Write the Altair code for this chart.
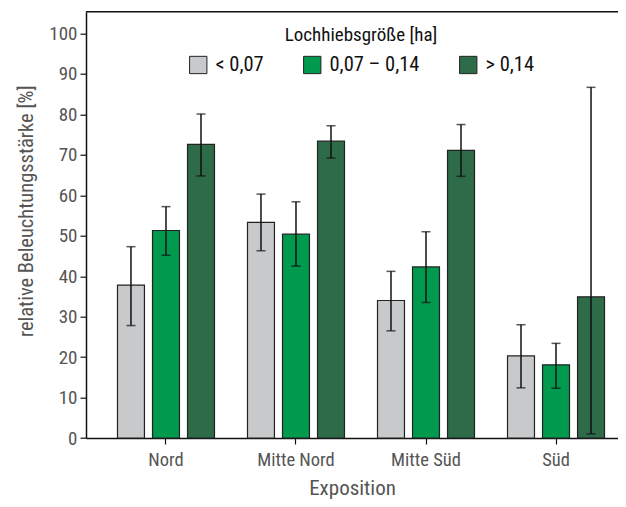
import altair as alt
import pandas as pd

expositions = ["Nord", "Mitte Nord", "Mitte Süd", "Süd"]
groups = ["< 0,07", "0,07 – 0,14", "> 0,14"]
colors = ["#c8c9cb", "#009a4e", "#2e6b48"]

means = [
    [37.8, 51.3, 72.6],
    [53.3, 50.4, 73.4],
    [34.0, 42.3, 71.1],
    [20.3, 18.1, 34.9],
]
lower = [
    [27.8, 45.2, 64.8],
    [46.3, 42.5, 69.2],
    [26.5, 33.5, 64.7],
    [12.4, 12.3, 1.0],
]
upper = [
    [47.3, 57.2, 80.1],
    [60.3, 58.4, 77.2],
    [41.2, 51.0, 77.5],
    [28.0, 23.4, 86.7],
]
y_ticks = [0, 10, 20, 30, 40, 50, 60, 70, 80, 90, 100]

rows = []
for i, e in enumerate(expositions):
    for j, g in enumerate(groups):
        rows.append({"Exposition": e, "Gruppe": g, "mean": means[i][j],
                     "lo": lower[i][j], "hi": upper[i][j]})
df = pd.DataFrame(rows)

FONT = "Liberation Sans Narrow, Roboto Condensed, DejaVu Sans Condensed, sans-serif"
YMAX = 105.4

x = alt.X("Exposition:N", sort=expositions,
          scale=alt.Scale(paddingInner=0.254, paddingOuter=0.173, align=0.7),
          axis=alt.Axis(title="Exposition", labelAngle=0, tickSize=6,
                        tickColor="#111", domainColor="#111", domainWidth=1.5,
                        tickWidth=1.2, labelPadding=6, titlePadding=9,
                        labelFontSize=18.5, titleFontSize=21,
                        labelColor="#555", titleColor="#555",
                        titleFontWeight="normal"))
xo = alt.XOffset("Gruppe:N", sort=groups,
                 scale=alt.Scale(paddingInner=0.23, paddingOuter=0))
y = alt.Y("mean:Q",
          scale=alt.Scale(domain=[0, YMAX], nice=False, zero=True),
          axis=alt.Axis(title="relative Beleuchtungsstärke [%]", values=y_ticks,
                        tickSize=6, tickColor="#111", tickWidth=1.2,
                        domainColor="#111", domainWidth=1.5, labelPadding=3,
                        labelFontSize=19, titleFontSize=20.5, labelColor="#555",
                        titleColor="#555", titleFontWeight="normal",
                        titlePadding=12, titleY=199, grid=False))

base = alt.Chart(df)

bars = base.mark_bar(stroke="#222", strokeWidth=1.2).encode(
    x=x, xOffset=xo, y=y,
    color=alt.Color("Gruppe:N", sort=groups,
                    scale=alt.Scale(domain=groups, range=colors),
                    legend=alt.Legend(
                        title="Lochhiebsgröße [ha]", orient="none",
                        direction="horizontal", legendX=102, legendY=14,
                        titleAnchor="middle", titleFontSize=19,
                        titleFontWeight="normal", titleColor="#111",
                        titlePadding=10,
                        labelFontSize=20.5, labelColor="#111", labelOffset=7,
                        symbolType="square", symbolSize=300,
                        symbolStrokeColor="#222", symbolStrokeWidth=1,
                        symbolOpacity=1, columnPadding=37)),
)

rules = base.mark_rule(color="#111", strokeWidth=1.5).encode(
    x=x, xOffset=xo, y=alt.Y("lo:Q"), y2="hi:Q")

caps_hi = base.mark_tick(color="#111", size=9, thickness=1.5,
                         orient="horizontal").encode(
    x=x, xOffset=xo, y=alt.Y("hi:Q"))
caps_lo = base.mark_tick(color="#111", size=9, thickness=1.5,
                         orient="horizontal").encode(
    x=x, xOffset=xo, y=alt.Y("lo:Q"))

top_line = alt.Chart(pd.DataFrame({"a": [0]})).mark_rule(
    color="#111", strokeWidth=1.5).encode(
    y=alt.value(0), x=alt.value(0), x2=alt.value(532))

chart = alt.layer(bars, rules, caps_hi, caps_lo, top_line).properties(
    width=532, height=426.3,
    autosize=alt.AutoSizeParams(type="none"),
    padding={"left": 78, "top": 3.7, "right": 0, "bottom": 61},
).configure(font=FONT).configure_view(stroke=None)

chart.save("out.html", embed_options={"renderer": "svg", "actions": False})
